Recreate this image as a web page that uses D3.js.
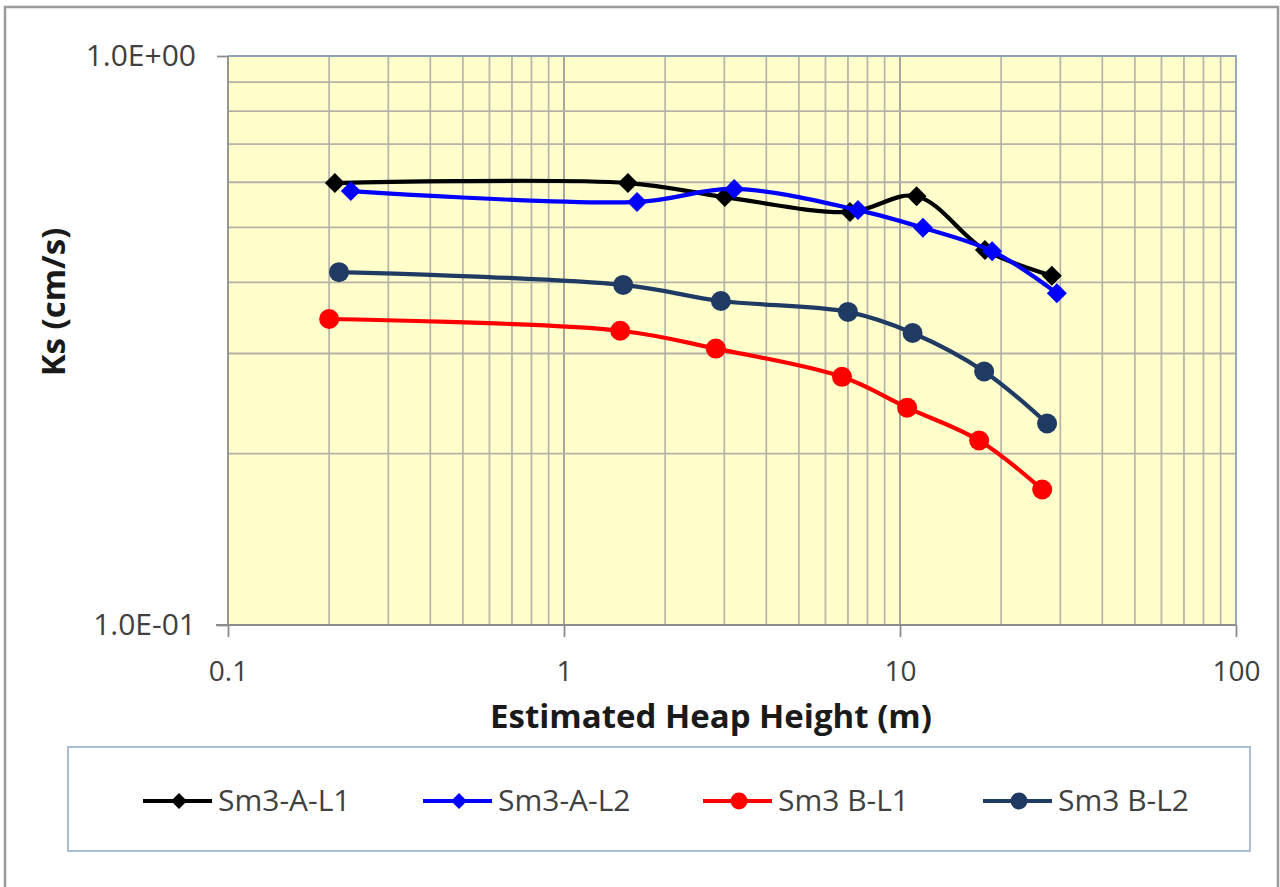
<!DOCTYPE html>
<html>
<head>
<meta charset="utf-8">
<script src="https://cdn.jsdelivr.net/npm/d3@7/dist/d3.min.js"></script>
<style>
  html, body { margin: 0; padding: 0; background: #ffffff; }
  svg { display: block; }
  text { font-family: "Open Sans", Lato, sans-serif; }
</style>
</head>
<body>
<svg id="chart" width="1280" height="887"></svg>
<script>
// Saturated hydraulic conductivity vs estimated heap height
const seriesNames = ["Sm3-A-L1", "Sm3-A-L2", "Sm3 B-L1", "Sm3 B-L2"];
const seriesColors = ["#000000", "#0000ff", "#ff0000", "#1f3b63"];
const seriesMarkers = ["diamond", "diamond", "circle", "circle"];

const heightA1 = [0.208, 1.55, 3.01, 7.10, 11.2, 17.9, 28.3];
const ksA1     = [0.598, 0.598, 0.565, 0.532, 0.567, 0.456, 0.411];
const heightA2 = [0.232, 1.65, 3.21, 7.50, 11.7, 18.8, 29.3];
const ksA2     = [0.579, 0.554, 0.584, 0.536, 0.499, 0.454, 0.383];
const heightB1 = [0.200, 1.47, 2.83, 6.72, 10.5, 17.2, 26.5];
const ksB1     = [0.345, 0.329, 0.306, 0.273, 0.241, 0.211, 0.173];
const heightB2 = [0.214, 1.50, 2.93, 7.00, 10.9, 17.8, 27.4];
const ksB2     = [0.417, 0.396, 0.371, 0.355, 0.326, 0.279, 0.226];

const xTickValues = [0.1, 1, 10, 100];
const xTickLabels = ["0.1", "1", "10", "100"];
const yTickValues = [0.1, 1];
const yTickLabels = ["1.0E-01", "1.0E+00"];

const xTitle = "Estimated Heap Height (m)";
const yTitle = "Ks (cm/s)";

const series = [
  { x: heightA1, y: ksA1 },
  { x: heightA2, y: ksA2 },
  { x: heightB1, y: ksB1 },
  { x: heightB2, y: ksB2 }
].map((s, i) => ({
  name: seriesNames[i],
  color: seriesColors[i],
  marker: seriesMarkers[i],
  points: s.x.map((v, j) => ({ h: v, k: s.y[j] }))
}));

const svg = d3.select("#chart");

// Outer chart frame
svg.append("rect")
  .attr("x", 5).attr("y", 7).attr("width", 1273).attr("height", 900)
  .attr("fill", "#ffffff").attr("stroke", "#9a9a9a").attr("stroke-width", 2.5);

const plot = { left: 228, top: 56, right: 1236, bottom: 625 };

const x = d3.scaleLog().domain([0.1, 100]).range([plot.left, plot.right]);
const y = d3.scaleLog().domain([0.1, 1]).range([plot.bottom, plot.top]);

// Plot background
svg.append("rect")
  .attr("x", plot.left).attr("y", plot.top)
  .attr("width", plot.right - plot.left).attr("height", plot.bottom - plot.top)
  .attr("fill", "#ffffcc");

// Gridlines at every 1..9 step of each decade
const xGrid = [];
for (let e = -1; e < 2; e++) for (let m = 1; m <= 9; m++) xGrid.push(m * Math.pow(10, e));
const yGrid = [];
for (let m = 2; m <= 9; m++) yGrid.push(m / 10);

const grid = svg.append("g").attr("stroke", "#b4b1a6").attr("stroke-width", 1.8);
grid.selectAll("line.gx").data(xGrid.filter(v => v > 0.1)).enter().append("line")
  .attr("x1", d => x(d)).attr("x2", d => x(d))
  .attr("y1", plot.top).attr("y2", plot.bottom)
  .attr("stroke", d => Math.abs(Math.log10(d) % 1) < 1e-9 ? "#a09e97" : "#b8b5aa");
grid.selectAll("line.gy").data(yGrid).enter().append("line")
  .attr("x1", plot.left).attr("x2", plot.right)
  .attr("y1", d => y(d)).attr("y2", d => y(d));

// Plot area border (top / right)
svg.append("path")
  .attr("d", `M${plot.left},${plot.top}H${plot.right}V${plot.bottom}`)
  .attr("fill", "none").attr("stroke", "#8fa2b6").attr("stroke-width", 1.8);

// Axes
const xAxis = d3.axisBottom(x).tickValues(xTickValues)
  .tickFormat((d, i) => xTickLabels[i]).tickSize(12).tickPadding(24);
const gx = svg.append("g").attr("transform", `translate(0,${plot.bottom})`).call(xAxis);
gx.select(".domain").attr("stroke", "#8c8c8c").attr("stroke-width", 1.8)
  .attr("d", `M${plot.left - 12},0H${plot.right}`);
gx.selectAll(".tick line").attr("stroke", "#8c8c8c").attr("stroke-width", 1.8);
gx.selectAll(".tick text").attr("fill", "#404040").attr("font-size", 28)
  .attr("font-family", "'Open Sans', Lato, sans-serif");

const yAxis = d3.axisLeft(y).tickValues(yTickValues)
  .tickFormat((d, i) => yTickLabels[i]).tickSize(11).tickPadding(21);
const gy = svg.append("g").attr("transform", `translate(${plot.left},0)`).call(yAxis);
gy.select(".domain").attr("stroke", "#8c8c8c").attr("stroke-width", 1.8)
  .attr("d", `M0,${plot.top}V${plot.bottom}`);
gy.selectAll(".tick line").attr("stroke", "#8c8c8c").attr("stroke-width", 1.8);
gy.selectAll(".tick text").attr("fill", "#404040").attr("font-size", 30)
  .attr("font-family", "'Open Sans', Lato, sans-serif");

// Axis titles
svg.append("text")
  .attr("x", 711).attr("y", 728)
  .attr("text-anchor", "middle").attr("font-weight", "bold").attr("font-size", 33)
  .attr("fill", "#1a1a1a").text(xTitle);
svg.append("text")
  .attr("transform", "translate(65,302) rotate(-90)")
  .attr("text-anchor", "middle").attr("font-weight", "bold").attr("font-size", 33)
  .attr("fill", "#1a1a1a").text(yTitle);

// Smoothed series lines
const line = d3.line()
  .x(d => x(d.h)).y(d => y(d.k))
  .curve(d3.curveCatmullRom.alpha(0.5));

const diamond = (r) => `M0,${-r}L${r},0L0,${r}L${-r},0Z`;

function drawMarker(g, type, color, size) {
  if (type === "diamond") {
    g.append("path").attr("d", diamond(size)).attr("fill", color);
  } else {
    g.append("circle").attr("r", size).attr("fill", color);
  }
}

const seriesG = svg.append("g");
series.forEach(s => {
  const g = seriesG.append("g");
  g.append("path").datum(s.points)
    .attr("d", line).attr("fill", "none")
    .attr("stroke", s.color).attr("stroke-width", 4.2)
    .attr("stroke-linejoin", "round");
  s.points.forEach(p => {
    const m = g.append("g").attr("transform", `translate(${x(p.h)},${y(p.k)})`);
    drawMarker(m, s.marker, s.color, s.marker === "diamond" ? 10 : 10);
  });
});

// Legend
const legendBox = { x: 68, y: 747, w: 1182, h: 104 };
svg.append("rect")
  .attr("x", legendBox.x).attr("y", legendBox.y)
  .attr("width", legendBox.w).attr("height", legendBox.h)
  .attr("fill", "#ffffff").attr("stroke", "#a8bfd6").attr("stroke-width", 2);

const legend = svg.append("g");
series.forEach((s, i) => {
  const lx = 143 + i * 280;
  const ly = 801;
  const item = legend.append("g").attr("transform", `translate(${lx},${ly})`);
  item.append("line").attr("x1", 0).attr("x2", 69).attr("y1", 0).attr("y2", 0)
    .attr("stroke", s.color).attr("stroke-width", 4.2);
  const m = item.append("g").attr("transform", "translate(36,0)");
  drawMarker(m, s.marker, s.color, s.marker === "diamond" ? 8 : 8.5);
  item.append("text").attr("x", 75).attr("y", 10)
    .attr("font-size", 30).attr("fill", "#404040").text(s.name);
});
</script>
</body>
</html>
